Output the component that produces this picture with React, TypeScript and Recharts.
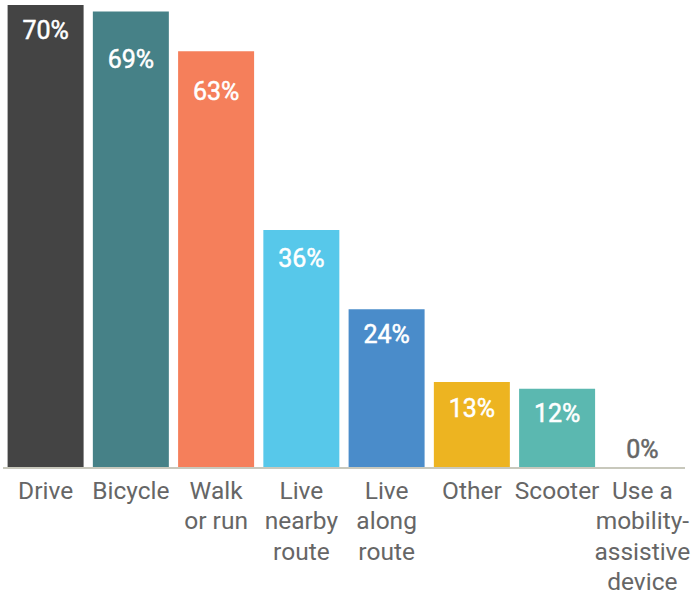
import { BarChart, Bar, XAxis, YAxis, Cell, LabelList, Rectangle } from "recharts";

const categories = ["Drive", "Bicycle", "Walk or run", "Live nearby route", "Live along route", "Other", "Scooter", "Use a mobility-assistive device"];
const tickLines = [["Drive"], ["Bicycle"], ["Walk", "or run"], ["Live", "nearby", "route"], ["Live", "along", "route"], ["Other"], ["Scooter"], ["Use a", "mobility-", "assistive", "device"]];
const shares = [70, 69, 63, 36, 24, 13, 12, 0];
const colors = ["#444444", "#468187", "#F57F5B", "#57C8EA", "#4A8CCA", "#EDB421", "#5BB8B0", "#cccccc"];
// distance of each value label's centre below its bar top, as in the source graphic
const labelDrop = [25, 47, 40, 28, 25, 26, 24, 0];

const data = categories.map((name, i) => ({ name, share: shares[i], idx: i }));

const FONT = "Roboto, sans-serif";

function MultiLineTick(props: any) {
  const { x, y, payload } = props;
  const lines = tickLines[payload.index] || [payload.value];
  return (
    <text x={x} y={y + 2} textAnchor="middle" fill="#666666" fontSize={24.5} fontFamily={FONT}>
      {lines.map((l, i) => (
        <tspan key={i} x={x} dy={i === 0 ? "0.85em" : 30.5}>{l}</tspan>
      ))}
    </text>
  );
}

function ValueLabel(props: any) {
  const { x, y, width, value, index } = props;
  if (!value) return null;
  return (
    <text
      x={x + width / 2}
      y={y + labelDrop[index] + 9}
      textAnchor="middle"
      fill="#ffffff"
      stroke="#ffffff"
      strokeWidth={0.5}
      fontSize={25}
      fontFamily={FONT}
    >
      {value}%
    </text>
  );
}

function BarShape(props: any) {
  const { x, y, width, height, fill, share } = props;
  if (share === 0) {
    return (
      <text x={x + width / 2} y={y - 10} textAnchor="middle" fill="#666666" stroke="#666666" strokeWidth={0.5} fontSize={25} fontFamily={FONT}>
        0%
      </text>
    );
  }
  return <Rectangle x={x} y={y} width={width} height={height} fill={fill} />;
}

export default function App() {
  return (
    <div style={{ position: "absolute", left: 0, top: 0, width: 691, height: 594, background: "#fff" }}>
      <BarChart width={691} height={594} data={data} margin={{ top: 5, right: 6, bottom: 0, left: 3 }} barCategoryGap={4.6}>
        <YAxis hide domain={[0, 70]} />
        <XAxis
          dataKey="name"
          interval={0}
          height={126}
          tickLine={false}
          axisLine={{ stroke: "#c8c8bc", strokeWidth: 2 }}
          tick={<MultiLineTick />}
        />
        <Bar dataKey="share" isAnimationActive={false} shape={<BarShape />}>
          {data.map((d) => (
            <Cell key={d.name} fill={colors[d.idx]} />
          ))}
          <LabelList dataKey="share" content={<ValueLabel />} />
        </Bar>
      </BarChart>
    </div>
  );
}
